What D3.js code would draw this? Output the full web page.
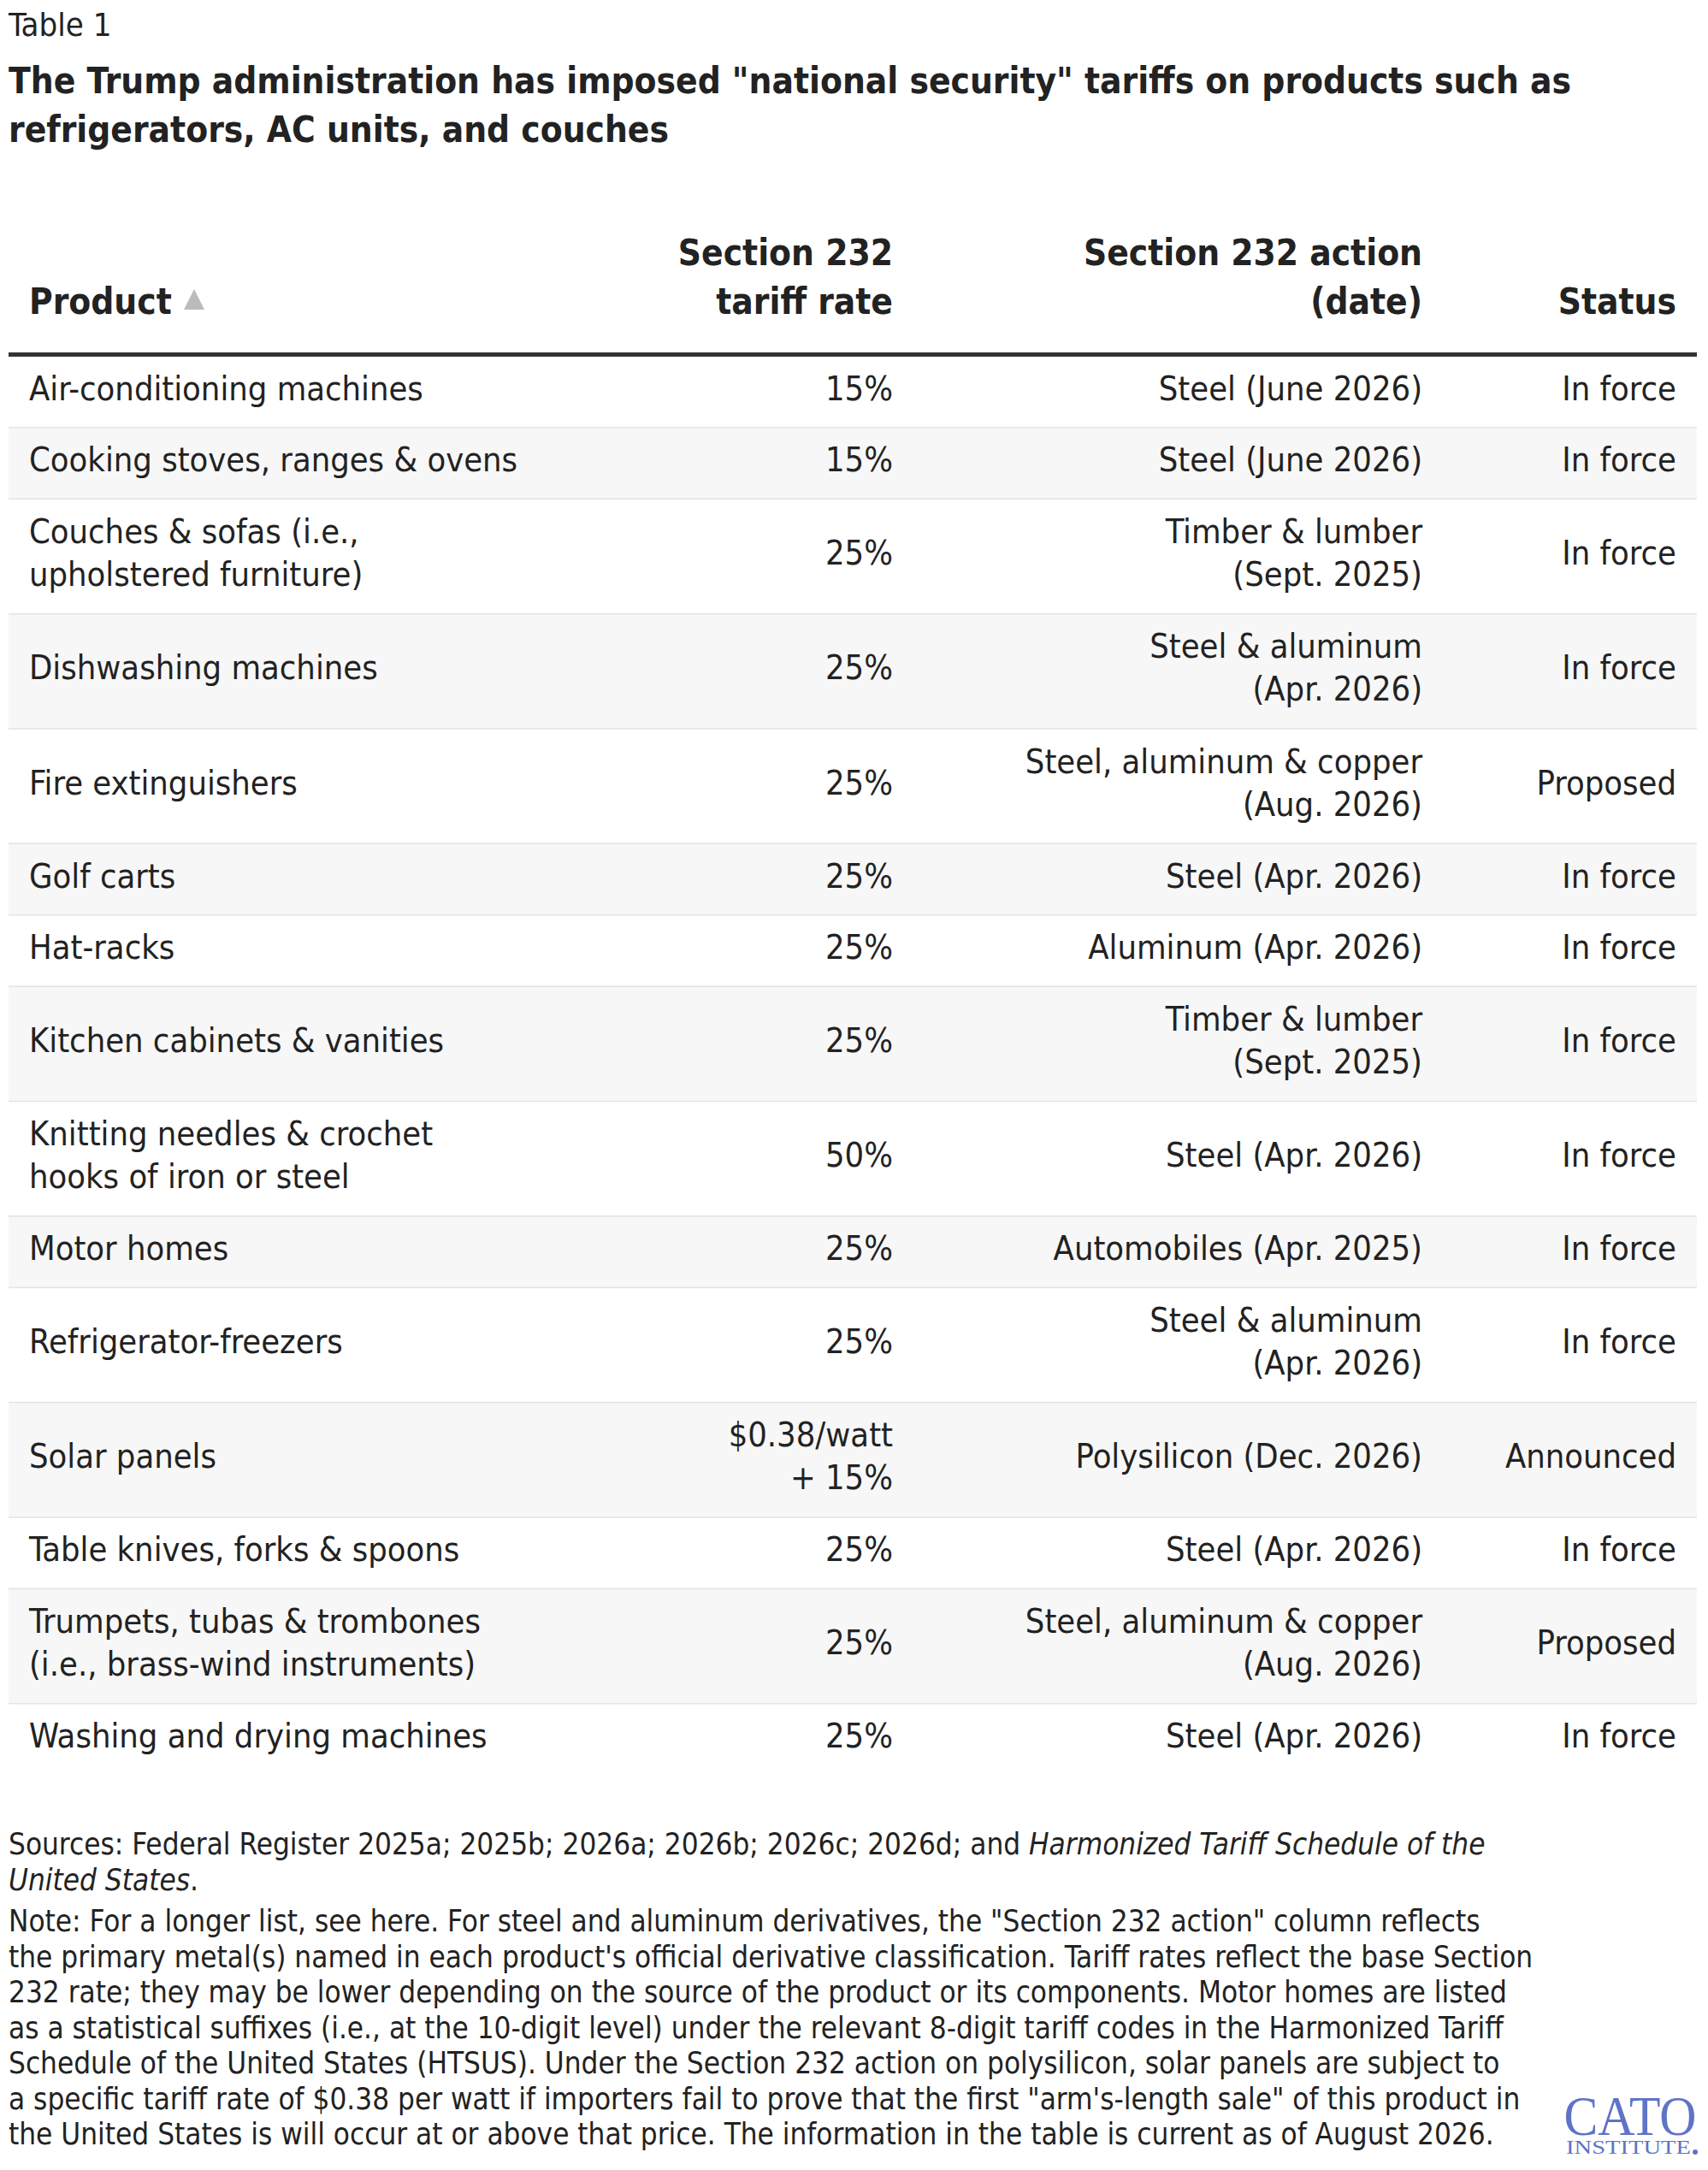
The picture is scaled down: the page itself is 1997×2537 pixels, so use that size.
<!DOCTYPE html>
<html>
<head>
<meta charset="utf-8">
<script src="https://cdn.jsdelivr.net/npm/d3@7"></script>
<style>
  body { margin: 0; background: #fff; }
  svg { display: block; }
  text { fill: #222; font-family: "Liberation Sans Narrow", "DejaVu Sans Condensed", "Roboto", sans-serif; }
</style>
</head>
<body>
<svg id="chart"></svg>
<script>
const products = [
  ["Air-conditioning machines"],
  ["Cooking stoves, ranges & ovens"],
  ["Couches & sofas (i.e.,", "upholstered furniture)"],
  ["Dishwashing machines"],
  ["Fire extinguishers"],
  ["Golf carts"],
  ["Hat-racks"],
  ["Kitchen cabinets & vanities"],
  ["Knitting needles & crochet", "hooks of iron or steel"],
  ["Motor homes"],
  ["Refrigerator-freezers"],
  ["Solar panels"],
  ["Table knives, forks & spoons"],
  ["Trumpets, tubas & trombones", "(i.e., brass-wind instruments)"],
  ["Washing and drying machines"]
];
const rates = [
  ["15%"], ["15%"], ["25%"], ["25%"], ["25%"], ["25%"], ["25%"], ["25%"],
  ["50%"], ["25%"], ["25%"], ["$0.38/watt", "+ 15%"], ["25%"], ["25%"], ["25%"]
];
const actions = [
  ["Steel (June 2026)"],
  ["Steel (June 2026)"],
  ["Timber & lumber", "(Sept. 2025)"],
  ["Steel & aluminum", "(Apr. 2026)"],
  ["Steel, aluminum & copper", "(Aug. 2026)"],
  ["Steel (Apr. 2026)"],
  ["Aluminum (Apr. 2026)"],
  ["Timber & lumber", "(Sept. 2025)"],
  ["Steel (Apr. 2026)"],
  ["Automobiles (Apr. 2025)"],
  ["Steel & aluminum", "(Apr. 2026)"],
  ["Polysilicon (Dec. 2026)"],
  ["Steel (Apr. 2026)"],
  ["Steel, aluminum & copper", "(Aug. 2026)"],
  ["Steel (Apr. 2026)"]
];
const statuses = [
  "In force", "In force", "In force", "In force", "Proposed", "In force", "In force",
  "In force", "In force", "In force", "In force", "Announced", "In force", "Proposed", "In force"
];
const headers = [
  { lines: ["Product"], anchor: "start" },
  { lines: ["Section 232", "tariff rate"], anchor: "end" },
  { lines: ["Section 232 action", "(date)"], anchor: "end" },
  { lines: ["Status"], anchor: "end" }
];
const sourcesLines = [
  [["Sources: Federal Register 2025a; 2025b; 2026a; 2026b; 2026c; 2026d; and ", false], ["Harmonized Tariff Schedule of the", true]],
  [["United States", true], [".", false]]
];
const noteLines = [
  "Note: For a longer list, see here. For steel and aluminum derivatives, the \"Section 232 action\" column reflects",
  "the primary metal(s) named in each product's official derivative classification. Tariff rates reflect the base Section",
  "232 rate; they may be lower depending on the source of the product or its components. Motor homes are listed",
  "as a statistical suffixes (i.e., at the 10-digit level) under the relevant 8-digit tariff codes in the Harmonized Tariff",
  "Schedule of the United States (HTSUS). Under the Section 232 action on polysilicon, solar panels are subject to",
  "a specific tariff rate of $0.38 per watt if importers fail to prove that the first \"arm's-length sale\" of this product in",
  "the United States is will occur at or above that price. The information in the table is current as of August 2026."
];

const W = 1997, H = 2537;
const svg = d3.select("#chart").attr("width", W).attr("height", H);

svg.append("text").attr("x", 10).attr("y", 42).attr("font-size", 38).text("Table 1");
const title = ["The Trump administration has imposed \"national security\" tariffs on products such as",
  "refrigerators, AC units, and couches"];
svg.append("text").attr("x", 10).attr("y", 109).attr("font-size", 42).attr("font-weight", "bold")
  .selectAll("tspan").data(title).join("tspan")
  .attr("x", 10).attr("dy", (d, i) => i ? 57 : 0).text(d => d);

// columns
const colX = [34, 1044, 1663, 1960];
const left = 10, right = 1984;

// header
headers.forEach((h, c) => {
  const t = svg.append("text").attr("font-size", 42).attr("font-weight", "bold")
    .attr("text-anchor", h.anchor);
  const n = h.lines.length;
  h.lines.forEach((l, i) => {
    t.append("tspan").attr("x", colX[c]).attr("y", 367 - (n - 1 - i) * 57).text(l);
  });
});
// sort arrow
svg.append("path").attr("d", "M215,362 L227,338 L239,362 Z").attr("fill", "#bbb");
svg.append("rect").attr("x", left).attr("y", 412).attr("width", right - left).attr("height", 5).attr("fill", "#333");

// row layout through a linear scale of "row units"
const rowUnits = products.map((p, i) =>
  Math.max(p.length, rates[i].length, actions[i].length) > 1 ? 1.607 : 1);
const cum = [0];
rowUnits.forEach(u => cum.push(cum[cum.length - 1] + u));
const y = d3.scaleLinear().domain([0, cum[cum.length - 1]]).range([417, 2076]);

const rows = svg.append("g").selectAll("g").data(products).join("g")
  .attr("transform", (d, i) => `translate(0,${y(cum[i])})`);

rows.append("rect")
  .attr("x", left).attr("width", right - left)
  .attr("height", (d, i) => y(cum[i + 1]) - y(cum[i]))
  .attr("fill", (d, i) => i % 2 ? "#f7f7f7" : "#fff");
rows.filter((d, i) => i < products.length - 1).append("rect")
  .attr("x", left).attr("width", right - left)
  .attr("y", (d, i) => y(cum[i + 1]) - y(cum[i]) - 1.5).attr("height", 2.5)
  .attr("fill", "#e3e3e3");

const lineH = 50;
function cell(sel, getLines, x, anchor) {
  sel.each(function (d, i) {
    const lines = getLines(i);
    const h = y(cum[i + 1]) - y(cum[i]);
    const top = h / 2 - (lines.length - 1) * lineH / 2 + 9;
    const t = d3.select(this).append("text").attr("font-size", 39.5).attr("text-anchor", anchor);
    lines.forEach((l, k) => t.append("tspan").attr("x", x).attr("y", top + k * lineH).text(l));
  });
}
cell(rows, i => products[i], colX[0], "start");
cell(rows, i => rates[i], colX[1], "end");
cell(rows, i => actions[i], colX[2], "end");
cell(rows, i => [statuses[i]], colX[3], "end");

// footer
const fs = 34.8, fl = 41.5;
sourcesLines.forEach((parts, i) => {
  const t = svg.append("text").attr("x", 10).attr("y", 2168 + i * fl).attr("font-size", fs);
  parts.forEach(p => t.append("tspan").attr("font-style", p[1] ? "italic" : "normal").text(p[0]));
});
noteLines.forEach((l, i) => {
  svg.append("text").attr("x", 10).attr("y", 2258 + i * fl).attr("font-size", fs).text(l);
});

// logo
const logoColor = "#5f73c7";
svg.append("text").attr("x", 1906).attr("y", 2496)
  .attr("font-size", 66).attr("textLength", 155).attr("lengthAdjust", "spacingAndGlyphs")
  .attr("text-anchor", "middle")
  .style("font-family", "'Liberation Serif', 'DejaVu Serif', serif").style("fill", logoColor).text("CATO");
svg.append("text").attr("x", 1904).attr("y", 2518).attr("text-anchor", "middle")
  .attr("font-size", 23).attr("textLength", 146).attr("lengthAdjust", "spacingAndGlyphs")
  .style("font-family", "'Liberation Serif', 'DejaVu Serif', serif").style("fill", logoColor).text("INSTITUTE");
svg.append("circle").attr("cx", 1982).attr("cy", 2516).attr("r", 3).attr("fill", logoColor);
</script>
</body>
</html>
